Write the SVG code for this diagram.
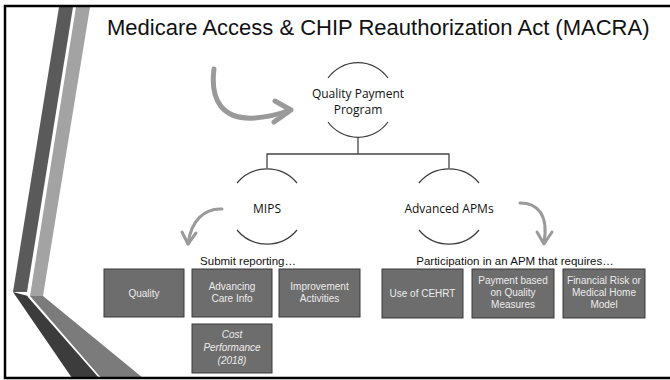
<svg xmlns="http://www.w3.org/2000/svg" width="670" height="380" viewBox="0 0 670 380">
<style>
.title{font-family:"Liberation Sans",Arial,sans-serif;font-size:22px;fill:#111}
.lbl{font-family:"Open Sans","Noto Sans",sans-serif;font-size:12px;fill:#111;text-anchor:middle}
.sub{font-family:"Liberation Sans",Arial,sans-serif;font-size:11.5px;fill:#111;text-anchor:middle}
.box{fill:#6d6d6d;stroke:#3a3a3a;stroke-width:1}
.bt{font-family:"Liberation Sans",Arial,sans-serif;font-size:10px;fill:#ececec;text-anchor:middle}
.arc{fill:none;stroke:#3c3c3c;stroke-width:1.2}
.conn{fill:none;stroke:#444;stroke-width:1.3}
.garrow{fill:none;stroke:#9a9a9a;stroke-linecap:round;stroke-linejoin:round}
</style>
<rect width="670" height="380" fill="#fff"/>
<g id="decoration">
<polygon points="59,7 73,7 27,292 13,292" fill="#5a5a5a"/>
<polygon points="76,7 90,7 43,296 30,296" fill="#a3a3a3"/>
<polygon points="13,292 28,296 100,378 72,378" fill="#3c3c3c"/>
<polygon points="30,296 43,296 143,378 101,378" fill="#7b7b7b"/>
<line x1="28" y1="296" x2="100" y2="378" stroke="#fff" stroke-width="1.3"/>
</g>
<g id="frame" fill="none" stroke="#000" stroke-width="2.5">
<path d="M672,6 H5 V378 H672"/>
</g>
<text class="title" x="107" y="35">Medicare Access &amp; CHIP Reauthorization Act (MACRA)</text>
<g id="arrows">
<path class="garrow" stroke-width="5" d="M214,69 C210,100 222,120 255,118 C268,117 280,114 290,110"/>
<path class="garrow" stroke-width="5" d="M275,101 L291,110 L274,122"/>
<path class="garrow" stroke-width="3" d="M222,209 C205,208 191,220 188,244"/>
<path class="garrow" stroke-width="3" d="M182,232 L188,244 L196,233"/>
<path class="garrow" stroke-width="3" d="M520,203 C537,203 549,214 544,243"/>
<path class="garrow" stroke-width="3" d="M537,232 L544,244 L552,232"/>
</g>
<g id="connectors">
<path class="conn" d="M358,137 V154 M267,168 V154 H449 V168"/>
</g>
<g id="qpp">
<path class="arc" d="M328,78 A37,37 0 0 1 388,78"/>
<path class="arc" d="M328,122 A37,37 0 0 0 388,122"/>
<text class="lbl" x="358" y="98">Quality Payment</text>
<text class="lbl" x="358" y="114">Program</text>
</g>
<g id="mips">
<path class="arc" d="M237,183 A39,39 0 0 1 297,183"/>
<path class="arc" d="M237,230 A39,39 0 0 0 297,230"/>
<text class="lbl" x="267" y="213">MIPS</text>
<text class="sub" x="248" y="265">Submit reporting…</text>
</g>
<g id="apms">
<path class="arc" d="M419,183 A39,39 0 0 1 479,183"/>
<path class="arc" d="M419,230 A39,39 0 0 0 479,230"/>
<text class="lbl" x="449" y="213">Advanced APMs</text>
<text class="sub" x="515" y="265">Participation in an APM that requires…</text>
</g>
<g id="quality">
<rect class="box" x="104" y="269" width="80" height="48"/>
<text class="bt" x="144" y="297">Quality</text>
</g>
<g id="aci">
<rect class="box" x="192" y="269" width="80" height="48"/>
<text class="bt" x="232" y="290">Advancing</text>
<text class="bt" x="232" y="302">Care Info</text>
</g>
<g id="ia">
<rect class="box" x="279" y="269" width="81" height="48"/>
<text class="bt" x="319.5" y="290">Improvement</text>
<text class="bt" x="319.5" y="302">Activities</text>
</g>
<g id="cost">
<rect class="box" x="192" y="324" width="80" height="49"/>
<text class="bt" x="232" y="338" font-style="italic">Cost</text>
<text class="bt" x="232" y="351" font-style="italic">Performance</text>
<text class="bt" x="232" y="364" font-style="italic">(2018)</text>
</g>
<g id="cehrt">
<rect class="box" x="382" y="269" width="81" height="49"/>
<text class="bt" x="422.5" y="297">Use of CEHRT</text>
</g>
<g id="payment">
<rect class="box" x="472" y="269" width="82" height="49"/>
<text class="bt" x="513" y="284">Payment based</text>
<text class="bt" x="513" y="296">on Quality</text>
<text class="bt" x="513" y="308">Measures</text>
</g>
<g id="risk">
<rect class="box" x="563" y="269" width="82" height="49"/>
<text class="bt" x="604" y="284">Financial Risk or</text>
<text class="bt" x="604" y="296">Medical Home</text>
<text class="bt" x="604" y="308">Model</text>
</g>
</svg>
